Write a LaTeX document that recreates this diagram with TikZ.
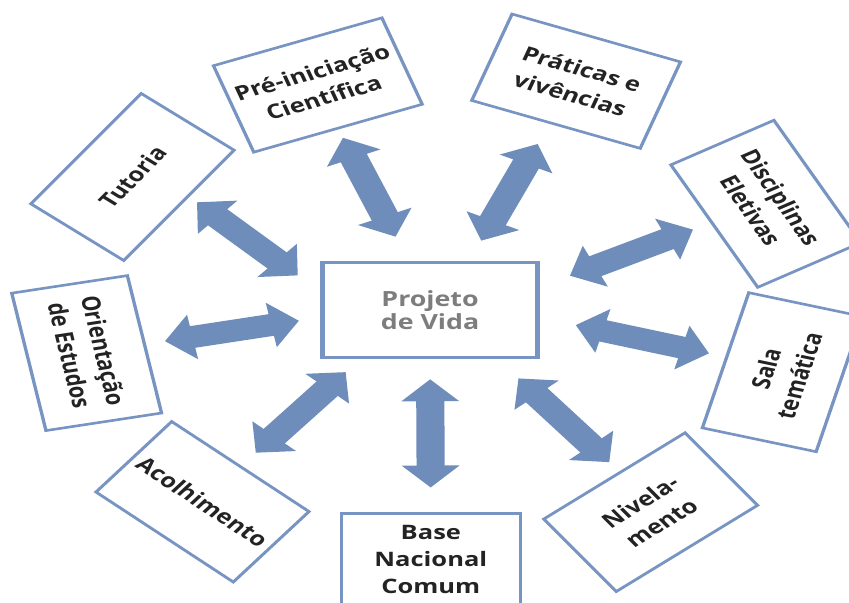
\documentclass[tikz,border=0pt]{standalone}
\usepackage{fontspec}
\setmainfont{Open Sans}
\usepackage{xcolor}
\usepackage{tikz}
\usetikzlibrary{arrows.meta}
\definecolor{steel}{RGB}{111,141,187}
\definecolor{frameblue}{RGB}{120,148,194}
\definecolor{ink}{RGB}{35,35,35}
\definecolor{ashgray}{RGB}{125,125,125}

\begin{document}
\begin{tikzpicture}[
    x=1bp, y=1bp,
    topic/.style={draw=frameblue, line width=2.6bp, fill=white, minimum width=140bp, minimum height=92bp,
                  inner sep=2bp, align=center, text=ink, font=\fontsize{20}{27}\selectfont\bfseries},
    hub/.style={topic, line width=3.6bp, minimum width=168bp, minimum height=95bp, text=ashgray,
                font=\fontsize{21}{23}\selectfont\bfseries},
    link/.style={draw=steel, line width=22bp, {Triangle[length=22bp,width=44bp]}-{Triangle[length=22bp,width=44bp]}}
]
\useasboundingbox (0,0) rectangle (849,603);
\begin{scope}[transform canvas={xscale=1.28}]
\node[hub] (proj) at (336,293) {Projeto\\de Vida};

\node[topic, rotate=52]  (tut)  at (103.5,426)  {Tutoria};
\node[topic, rotate=20]  (pre)  at (248.3,518)  {Pré-iniciação\\Científica};
\node[topic, rotate=-20] (prat) at (450.1,521.8) {Práticas e\\vivências};
\node[topic, rotate=-61] (disc) at (598.3,399.2) {Disciplinas\\Eletivas};
\node[topic, rotate=75]  (sala) at (611.3,230.8) {Sala\\temática};
\node[topic, rotate=38]  (niv)  at (508.3,90.8)  {Nivela-\\mento};
\node[topic]             (base) at (336.6,43.2)  {Base\\Nacional\\Comum};
\node[topic, rotate=-40] (acol) at (158.2,101.2) {Acolhimento};
\node[topic, rotate=-79] (ori)  at (67.7,249.9)  {Orientação\\de Estudos};

\draw[link, shorten <=24bp, shorten >=8bp]  (proj.168) -- (tut.-76);
\draw[link, shorten <=26bp, shorten >=9bp]  (proj.109) -- (pre.south);
\draw[link, shorten <=22bp, shorten >=22bp] (proj.58)  -- (prat.-96);
\draw[link, shorten <=26bp, shorten >=15bp] (proj.15)  -- (disc.-95);
\draw[link, shorten <=29bp, shorten >=13bp] (proj.-5)  -- (sala.86);
\draw[link, shorten <=25bp, shorten >=12bp] (proj.-43) -- (niv.83);
\draw[link, shorten <=20bp, shorten >=25bp] (proj.south) -- (base.north);
\draw[link, shorten <=17bp, shorten >=17bp] (proj.222) -- (acol.north);
\draw[link, shorten <=17bp, shorten >=15bp] (proj.185) -- (ori.north);
\end{scope}
\end{tikzpicture}
\end{document}
